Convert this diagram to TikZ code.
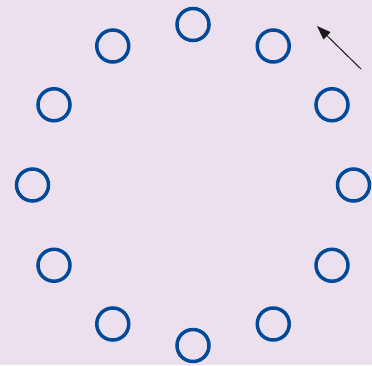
\documentclass[tikz,border=0pt]{standalone}
\usetikzlibrary{arrows.meta}
\definecolor{bgc}{HTML}{EDE0EE}
\definecolor{ringc}{HTML}{004A99}
\definecolor{arrc}{HTML}{1A1A1A}
\begin{document}
\begin{tikzpicture}[x=1pt,y=-1pt,
  dot/.style={circle,draw=ringc,line width=3.5pt,minimum size=32pt,inner sep=0pt}]
\fill[bgc] (0,0) rectangle (372,365);
\useasboundingbox (0,0) rectangle (372,365);
\foreach \i in {0,...,11}{
  \node[dot] (c\i) at ({193+160.5*sin(30*\i)},{185-160.5*cos(30*\i)}) {};
}
\coordinate (atail) at (361,69);
\coordinate (ahead) at (317,26);
\draw[arrc,line width=1pt,-{Triangle[length=14pt,width=10pt]}] (atail) -- (ahead);
\end{tikzpicture}
\end{document}
